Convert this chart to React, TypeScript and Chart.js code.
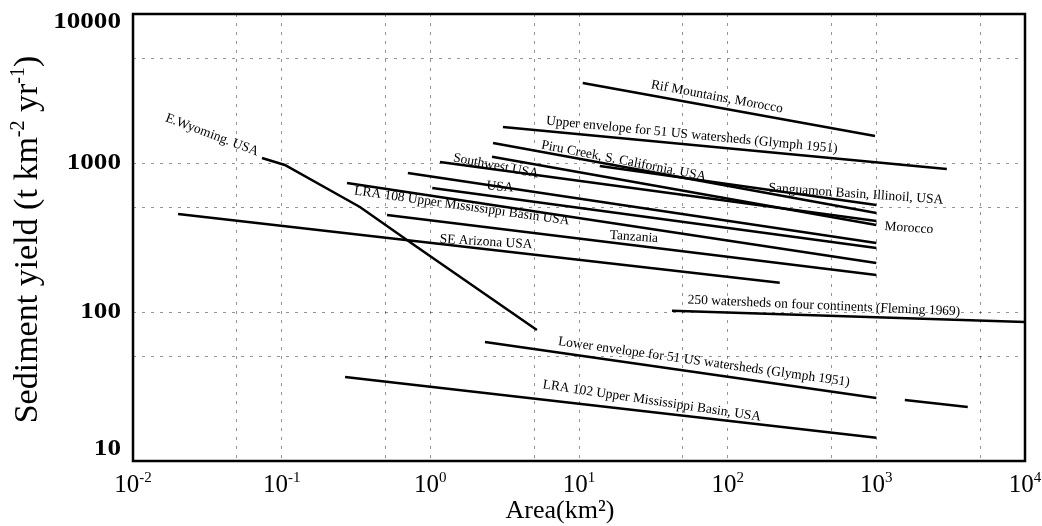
import React, { useEffect, useRef } from 'react';
import { Chart, registerables } from 'chart.js';

Chart.register(...registerables);

// ---- axes ----
const xGridValues = [0.01, 0.05, 0.1, 0.5, 1, 5, 10, 50, 100, 500, 1000, 5000, 10000];
const yGridValues = [10, 50, 100, 500, 1000, 5000, 10000];
const xTickExponents = [-2, -1, 0, 1, 2, 3, 4];
const yTickLabels = [10, 100, 1000, 10000];

// ---- series (area km², sediment yield t km-2 yr-1) ----
const eWyomingArea = [0.0737, 0.105, 0.336, 0.813, 5.21];
const eWyomingYield = [1080, 970, 507, 273, 75.7];
const seArizonaArea = [0.0201, 224];
const seArizonaYield = [455, 157];
const rifArea = [10.6, 980];
const rifYield = [3440, 1520];
const upperEnvArea = [3.08, 2980];
const upperEnvYield = [1745, 912];
const piruArea = [2.64, 1000];
const piruYield = [1360, 462];
const sanguamonArea = [13.8, 1000];
const sanguamonYield = [955, 523];
const moroccoArea = [2.6, 1000];
const moroccoYield = [1100, 384];
const southwestArea = [1.16, 1000];
const southwestYield = [1016, 408];
const otherArea = [0.706, 1000];
const otherYield = [857, 290];
const usaArea = [1.03, 1000];
const usaYield = [680, 269];
const lra108Area = [0.275, 1000];
const lra108Yield = [734, 213];
const tanzaniaArea = [0.511, 1000];
const tanzaniaYield = [448, 177];
const flemingArea = [42.2, 10000];
const flemingYield = [102, 85.7];
const lowerEnvArea = [2.33, 1000];
const lowerEnvYield = [63, 26.5];
const lowerEnvExtArea = [1555, 4120];
const lowerEnvExtYield = [25.7, 23];
const lra102Area = [0.267, 1000];
const lra102Yield = [36.6, 14.3];

const seriesAreas = [eWyomingArea, seArizonaArea, rifArea, upperEnvArea, piruArea, sanguamonArea, moroccoArea, southwestArea, otherArea, usaArea, lra108Area, tanzaniaArea, flemingArea, lowerEnvArea, lowerEnvExtArea, lra102Area];
const seriesYields = [eWyomingYield, seArizonaYield, rifYield, upperEnvYield, piruYield, sanguamonYield, moroccoYield, southwestYield, otherYield, usaYield, lra108Yield, tanzaniaYield, flemingYield, lowerEnvYield, lowerEnvExtYield, lra102Yield];

// ---- curve labels ----
const labelTexts = [
  'E.Wyoming. USA',
  'Rif Mountains, Morocco',
  'Upper envelope for 51 US watersheds (Glymph 1951)',
  'Piru Creek, S. California. USA',
  'Southwest USA',
  'USA',
  'LRA 108 Upper Mississippi Basin USA',
  'Tanzania',
  'SE Arizona USA',
  'Sanguamon Basin, Illinoil, USA',
  'Morocco',
  '250 watersheds on four continents (Fleming 1969)',
  'Lower envelope for 51 US watersheds (Glymph 1951)',
  'LRA 102 Upper Mississippi Basin, USA',
];
const labelAreas = [0.034, 84.6, 57.4, 20.0, 2.76, 2.94, 1.63, 23.4, 2.37, 728, 1655, 444, 69.2, 30.9];
const labelYields = [1542, 2773, 1542, 1031, 955, 690, 514, 319, 295, 619, 366, 110, 46.2, 25.3];
const labelAngles = [20.6, 10.5, 5.5, 11, 11, 5, 8, 4, 3.5, 4, 4, 2.5, 8, 8.5];

const SERIF = '"Liberation Serif", "Times New Roman", serif';

const decorPlugin = {
  id: 'decor',
  afterDraw(chart: any) {
    const { ctx, chartArea, scales } = chart;
    const xs = scales.x;
    const ys = scales.y;
    ctx.save();
    // frame
    ctx.strokeStyle = '#000';
    ctx.lineWidth = 2.5;
    ctx.setLineDash([]);
    ctx.strokeRect(chartArea.left, chartArea.top, chartArea.right - chartArea.left, chartArea.bottom - chartArea.top);

    ctx.fillStyle = '#000';
    // curve labels
    ctx.font = '13.5px ' + SERIF;
    ctx.textAlign = 'center';
    ctx.textBaseline = 'middle';
    labelTexts.forEach((t, i) => {
      const px = xs.getPixelForValue(labelAreas[i]);
      const py = ys.getPixelForValue(labelYields[i]);
      ctx.save();
      ctx.translate(px, py);
      ctx.rotate((labelAngles[i] * Math.PI) / 180);
      ctx.fillText(t, 0, 0);
      ctx.restore();
    });

    // y tick labels
    ctx.font = 'bold 23px ' + SERIF;
    ctx.textAlign = 'right';
    ctx.textBaseline = 'middle';
    yTickLabels.forEach((v) => {
      const py = ys.getPixelForValue(v);
      const yy = Math.min(Math.max(py, chartArea.top + 8), chartArea.bottom - 12);
      ctx.save();
      ctx.translate(chartArea.left - 12, yy);
      ctx.scale(1.18, 1);
      ctx.fillText(String(v), 0, 0);
      ctx.restore();
    });

    // x tick labels: 10^e
    ctx.textAlign = 'left';
    ctx.textBaseline = 'alphabetic';
    const baseY = chartArea.bottom + 31;
    xTickExponents.forEach((e) => {
      const px = xs.getPixelForValue(Math.pow(10, e));
      ctx.font = '25px ' + SERIF;
      const bw = ctx.measureText('10').width;
      ctx.font = '15px ' + SERIF;
      const sup = String(e);
      const sw = ctx.measureText(sup).width;
      const start = px - (bw + sw) / 2;
      ctx.font = '25px ' + SERIF;
      ctx.fillText('10', start, baseY);
      ctx.font = '15px ' + SERIF;
      ctx.fillText(sup, start + bw, baseY - 10);
    });

    // x title
    ctx.font = '26px ' + SERIF;
    ctx.textAlign = 'center';
    ctx.fillText('Area(km\u00b2)', (chartArea.left + chartArea.right) / 2 - 19, chartArea.bottom + 57);

    // y title (rotated, with superscripts)
    const parts: [string, boolean][] = [
      ['Sediment yield (t km', false],
      ['-2', true],
      [' yr', false],
      ['-1', true],
      [')', false],
    ];
    const bigF = '34px ' + SERIF;
    const supF = '20px ' + SERIF;
    let total = 0;
    const widths = parts.map(([t, s]) => {
      ctx.font = s ? supF : bigF;
      const w = ctx.measureText(t).width;
      total += w;
      return w;
    });
    ctx.save();
    ctx.translate(37, (chartArea.top + chartArea.bottom) / 2 + 2);
    ctx.rotate(-Math.PI / 2);
    ctx.textAlign = 'left';
    let cx = -total / 2;
    parts.forEach(([t, s], i) => {
      ctx.font = s ? supF : bigF;
      ctx.fillText(t, cx, s ? -13 : 0);
      cx += widths[i];
    });
    ctx.restore();

    ctx.restore();
  },
};

export default function App() {
  const ref = useRef<HTMLCanvasElement>(null);

  useEffect(() => {
    if (!ref.current) return;
    const datasets = seriesAreas.map((xs, i) => ({
      data: xs.map((x, j) => ({ x, y: seriesYields[i][j] })),
      showLine: true,
      borderColor: '#000',
      borderWidth: 2.5,
      pointRadius: 0,
      fill: false,
      tension: 0,
    }));
    const gridOpts = { color: 'rgba(0,0,0,0.42)', lineWidth: 1, drawTicks: false, tickLength: 0 };
    const chart = new Chart(ref.current, {
      type: 'scatter',
      data: { datasets },
      options: {
        animation: false,
        responsive: false,
        maintainAspectRatio: false,
        layout: { padding: { top: 14, right: 17, left: 0, bottom: 0 } },
        plugins: { legend: { display: false }, tooltip: { enabled: false } },
        scales: {
          x: {
            type: 'logarithmic',
            min: 0.01,
            max: 10000,
            afterBuildTicks: (s: any) => {
              s.ticks = xGridValues.map((v) => ({ value: v }));
            },
            afterFit: (s: any) => {
              s.height = 65;
            },
            ticks: { display: false },
            grid: gridOpts,
            border: { display: false, dash: [3, 6] },
          },
          y: {
            type: 'logarithmic',
            min: 10,
            max: 10000,
            afterBuildTicks: (s: any) => {
              s.ticks = yGridValues.map((v) => ({ value: v }));
            },
            afterFit: (s: any) => {
              s.width = 133;
            },
            ticks: { display: false },
            grid: gridOpts,
            border: { display: false, dash: [3, 6] },
          },
        },
      } as any,
      plugins: [decorPlugin],
    });
    return () => chart.destroy();
  }, []);

  return (
    <div style={{ position: 'absolute', left: 0, top: 0, width: 1042, height: 526, background: '#fff' }}>
      <canvas ref={ref} width={1042} height={526} style={{ width: 1042, height: 526 }} />
    </div>
  );
}
